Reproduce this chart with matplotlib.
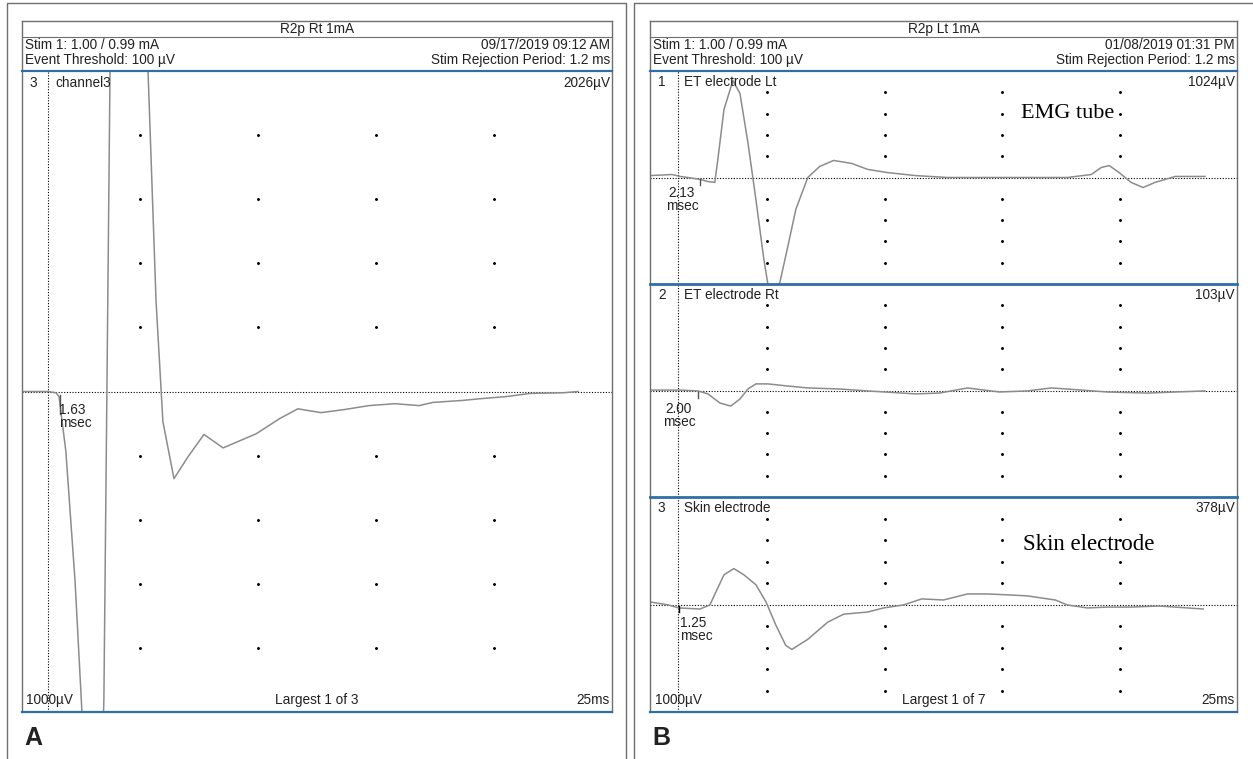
import matplotlib.pyplot as plt
from matplotlib.lines import Line2D

W, H = 1253, 759

# panel A, channel 3 (time in ms, amplitude in divisions)
a_t = [0.00, 1.10, 1.44, 1.57, 1.86, 2.25, 2.54, 3.14, 3.47, 3.73, 4.49, 5.34, 5.68, 5.97,
       6.44, 7.03, 7.71, 8.52, 9.92, 10.93, 11.69, 12.67, 13.69, 14.70, 15.81, 16.82,
       17.42, 18.64, 19.49, 20.51, 21.53, 22.92, 23.56]
a_v = [0.00, 0.00, -0.02, -0.08, -0.94, -2.97, -5.0, -9.5, -4.8, 5.0, 12.0, 5.0, 1.41, -0.47,
       -1.36, -1.02, -0.67, -0.88, -0.66, -0.42, -0.27, -0.33, -0.28, -0.22, -0.19, -0.22,
       -0.17, -0.14, -0.11, -0.08, -0.03, -0.02, 0.00]

# panel B, channel 1 "ET electrode Lt"
b1_t = [0.00, 0.94, 1.28, 1.62, 2.13, 2.47, 2.76, 2.89, 3.15, 3.53, 3.83, 4.17, 4.51, 4.85,
        5.02, 5.27, 5.53, 5.87, 6.21, 6.72, 7.23, 7.82, 8.59, 9.27, 10.12, 11.31, 12.67,
        16.07, 17.77, 18.79, 19.22, 19.56, 19.98, 20.49, 21.00, 21.51, 22.37, 23.64]
b1_v = [0.09, 0.14, 0.05, 0.00, -0.09, -0.19, -0.23, 0.85, 3.19, 4.55, 3.95, 1.64, -1.03, -3.85,
        -5.0, -5.6, -4.93, -3.24, -1.50, 0.00, 0.52, 0.80, 0.66, 0.38, 0.23, 0.09, 0.00,
        0.00, 0.00, 0.14, 0.47, 0.56, 0.23, -0.23, -0.47, -0.23, 0.05, 0.05]

# panel B, channel 2 "ET electrode Rt"
b2_t = [0.00, 1.28, 2.04, 2.47, 2.98, 3.44, 3.83, 4.17, 4.51, 5.02, 5.87, 6.72, 8.08, 9.27,
        11.31, 12.33, 13.52, 14.88, 16.07, 17.09, 17.77, 19.47, 21.17, 23.64]
b2_v = [0.02, 0.02, -0.02, -0.16, -0.59, -0.73, -0.40, 0.07, 0.31, 0.31, 0.21, 0.12, 0.07, -0.02,
        -0.16, -0.12, 0.12, -0.07, -0.02, 0.12, 0.07, -0.07, -0.12, -0.02]

# panel B, channel 3 "Skin electrode"
b3_t = [0.00, 0.77, 1.23, 2.13, 2.55, 2.81, 3.15, 3.57, 4.00, 4.51, 4.94, 5.36, 5.78, 6.04,
        6.72, 7.57, 8.25, 9.27, 9.95, 10.80, 11.57, 12.50, 13.52, 14.37, 15.22, 16.07,
        17.26, 17.77, 18.62, 19.47, 20.49, 21.69, 23.56]
b3_v = [0.12, -0.02, -0.16, -0.21, -0.02, 0.59, 1.38, 1.67, 1.38, 0.92, 0.12, -0.96, -1.90, -2.09,
        -1.62, -0.82, -0.45, -0.35, -0.16, -0.02, 0.26, 0.21, 0.49, 0.49, 0.45, 0.40,
        0.21, -0.02, -0.16, -0.12, -0.12, -0.07, -0.21]

grid_t = [5, 10, 15, 20]
grid_v = [-4, -3, -2, -1, 1, 2, 3, 4]

GRAY = '#6f6f6f'
BLUE = '#2f6ea8'
TRACE = '#8c8c8c'
FS = 9.8
plt.rcParams['font.family'] = ['Liberation Sans', 'DejaVu Sans']

fig = plt.figure(figsize=(W / 100, H / 100), dpi=100)


def line(xs, ys, color=GRAY, lw=1.0, **kw):
    fig.add_artist(Line2D([x / W for x in xs], [1 - y / H for y in ys],
                          transform=fig.transFigure, color=color, lw=lw, **kw))


def txt(x, y, s, ha='left', size=FS, **kw):
    fig.text(x / W, 1 - y / H, s, ha=ha, va='center', fontsize=size, color='#222222', **kw)


def trace_ax(x0, y0, x1, y1, t, v, stim, cursor, label, label_pos, ha, cursor_col):
    ax = fig.add_axes([x0 / W, 1 - y1 / H, (x1 - x0) / W, (y1 - y0) / H])
    ax.set_xlim(0, 25)
    ax.set_ylim(-5, 5)
    ax.axis('off')
    ax.patch.set_alpha(0)
    for gt in grid_t:
        ax.plot([gt] * len(grid_v), grid_v, ls='none', marker='o', ms=1.1, color='black')
    ax.axhline(0, color='black', lw=0.8, ls=(0, (1, 1.5)))
    ax.axvline(stim, color='black', lw=0.8, ls=(0, (1, 1.5)))
    ax.plot(t, v, color=TRACE, lw=1.1)
    ax.plot([cursor, cursor], [-0.05, -0.35], color=cursor_col, lw=1.0)
    ax.text(label_pos[0], label_pos[1], label, ha=ha, va='top', fontsize=FS,
            linespacing=0.9, color='#222222')
    return ax


def header(x0, x1, title, date):
    xc = (x0 + x1) / 2
    line([x0, x1], [21, 21])
    line([x0, x1], [37, 37], lw=0.8)
    line([x0, x0], [21, 712])
    line([x1, x1], [21, 712])
    line([x0, x1], [71, 71], color=BLUE, lw=1.6)
    line([x0, x1], [712, 712], color=BLUE, lw=1.6)
    txt(xc, 29, title, ha='center')
    txt(x0 + 3, 45, 'Stim 1: 1.00 / 0.99 mA')
    txt(x0 + 3, 60, 'Event Threshold: 100 µV')
    txt(x1 - 2, 45, date, ha='right')
    txt(x1 - 2, 60, 'Stim Rejection Period: 1.2 ms', ha='right')


# outer frames
line([7, 7, 626, 626], [760, 3, 3, 760])
line([634, 634, 1253], [760, 3, 3])

# ---- panel A ----
header(22, 612, 'R2p Rt 1mA', '09/17/2019 09:12 AM')
trace_ax(22, 71, 612, 712, a_t, a_v, 1.10, 1.63, '1.63\nmsec', (1.55, -0.18), 'left', '#555555')
txt(30, 83, '3')
txt(55, 83, 'channel3')
txt(610, 83, '2026µV', ha='right')
txt(26, 700, '1000µV')
txt(317, 700, 'Largest 1 of 3', ha='center')
txt(610, 700, '25ms', ha='right')
txt(24, 738, 'A', size=18, weight='bold')

# ---- panel B ----
header(650, 1237, 'R2p Lt 1mA', '01/08/2019 01:31 PM')
sub = [(71, 284), (284, 497), (497, 712)]
trace_ax(650, 71, 1237, 284, b1_t, b1_v, 1.19, 2.13, '2.13\nmsec', (1.36, -0.4), 'center', '#555555')
trace_ax(650, 284, 1237, 497, b2_t, b2_v, 1.19, 2.04, '2.00\nmsec', (1.23, -0.55), 'center', '#555555')
trace_ax(650, 497, 1237, 712, b3_t, b3_v, 1.19, 1.25, '1.25\nmsec', (1.28, -0.55), 'left', 'black')
line([650, 1237], [284, 284], color=BLUE, lw=2.0)
line([650, 1237], [497, 497], color=BLUE, lw=2.0)
names = [('1', 'ET electrode Lt', '1024µV'), ('2', 'ET electrode Rt', '103µV'),
         ('3', 'Skin electrode', '378µV')]
for (top, bot), (num, name, amp) in zip(sub, names):
    txt(658, top + 11, num)
    txt(684, top + 11, name)
    txt(1235, top + 11, amp, ha='right')
txt(655, 700, '1000µV')
txt(944, 700, 'Largest 1 of 7', ha='center')
txt(1235, 700, '25ms', ha='right')
txt(652, 738, 'B', size=18, weight='bold')

fig.text(1021 / W, 1 - 114 / H, 'EMG tube', family='Liberation Serif', fontsize=16, va='center')
fig.text(1023 / W, 1 - 544 / H, 'Skin electrode', family='Liberation Serif', fontsize=16.5, va='center')

fig.savefig('out.png', dpi=100)
